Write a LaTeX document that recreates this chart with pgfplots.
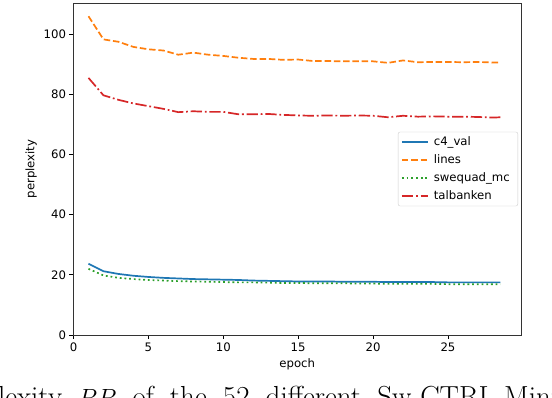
\documentclass[border=0pt]{standalone}
\usepackage{pgfplots}
\pgfplotsset{compat=1.18}
\usepackage{fontspec}
\newfontfamily\plotfont{DejaVu Sans}

\definecolor{tabblue}{HTML}{1F77B4}
\definecolor{taborange}{HTML}{FF7F0E}
\definecolor{tabgreen}{HTML}{2CA02C}
\definecolor{tabred}{HTML}{D62728}

\begin{document}
\begin{tikzpicture}
\useasboundingbox (0pt,0pt) rectangle (552pt,398pt);
\clip (0pt,0pt) rectangle (552pt,398pt);
\begin{axis}[
    at={(73.5pt,63pt)}, anchor=south west,
    scale only axis,
    width=447.5pt, height=332pt,
    xmin=0, xmax=29.875,
    ymin=0, ymax=110.4,
    xtick={0,5,...,25},
    ytick={0,20,...,100},
    tick align=outside,
    tick pos=left,
    major tick length=4pt,
    every tick/.style={black, line width=0.9pt},
    axis line style={line width=0.9pt, black!80},
    font=\plotfont\fontsize{11.7}{14}\selectfont,
    /pgf/number format/assume math mode=true,
    xlabel={epoch},
    ylabel={perplexity},
    legend cell align=left,
    legend style={at={(0.9933,0.5)}, anchor=east, draw=black!20,
        rounded corners=2pt, inner xsep=3pt, inner ysep=3pt,
        row sep=3.5pt, font=\plotfont\fontsize{11.7}{14}\selectfont,
        nodes={inner xsep=5pt}},
    legend image code/.code={\draw[#1, line width=1.7pt] (0pt,0pt) -- (26pt,0pt);},
]

% c4_val
\addplot[tabblue, line width=1.7pt] coordinates {
    (1,23.7) (2,21.2) (3,20.3) (4,19.7) (5,19.3) (6,19.0) (7,18.8) (8,18.6)
    (9,18.5) (10,18.4) (11,18.3) (12,18.1) (13,18.0) (14,17.9) (15,17.8)
    (16,17.8) (17,17.8) (18,17.7) (19,17.7) (20,17.7) (21,17.6) (22,17.6)
    (23,17.6) (24,17.6) (25,17.5) (26,17.5) (27,17.5) (28,17.5) (28.5,17.5)
};

% lines
\addplot[taborange, line width=1.7pt, dash pattern=on 6.5pt off 2.8pt] coordinates {
    (1,106.0) (2,98.3) (3,97.5) (4,95.8) (5,95.0) (6,94.6) (7,93.2) (8,93.9)
    (9,93.2) (10,92.8) (11,92.2) (12,91.8) (13,91.8) (14,91.5) (15,91.6)
    (16,91.1) (17,91.1) (18,91.0) (19,91.0) (20,91.0) (21,90.5) (22,91.3)
    (23,90.7) (24,90.8) (25,90.8) (26,90.7) (27,90.8) (28,90.6) (28.5,90.6)
};

% swequad_mc
\addplot[tabgreen, line width=1.7pt, dash pattern=on 1.8pt off 2.9pt] coordinates {
    (1,22.0) (2,19.8) (3,19.0) (4,18.6) (5,18.3) (6,18.1) (7,17.9) (8,17.8)
    (9,17.7) (10,17.6) (11,17.5) (12,17.5) (13,17.4) (14,17.3) (15,17.3)
    (16,17.2) (17,17.2) (18,17.2) (19,17.1) (20,17.1) (21,17.0) (22,17.0)
    (23,17.0) (24,17.0) (25,16.9) (26,16.9) (27,16.9) (28,16.9) (28.5,16.9)
};

% talbanken
\addplot[tabred, line width=1.7pt, dash pattern=on 11.3pt off 2.8pt on 1.8pt off 2.8pt] coordinates {
    (1,85.5) (2,79.7) (3,78.2) (4,77.0) (5,76.1) (6,75.2) (7,74.1) (8,74.4)
    (9,74.2) (10,74.2) (11,73.4) (12,73.4) (13,73.5) (14,73.2) (15,73.0)
    (16,72.9) (17,73.0) (18,72.9) (19,73.0) (20,72.9) (21,72.4) (22,72.9)
    (23,72.6) (24,72.7) (25,72.6) (26,72.6) (27,72.5) (28,72.3) (28.5,72.4)
};

\legend{c4\_val, lines, swequad\_mc, talbanken}
\end{axis}
% caption of the page below the figure, cut off by the crop
\node[anchor=base west, inner sep=0pt, font=\fontsize{29}{34}\selectfont]
    at (-54.5pt,-8.8pt) {\makebox[612.5pt][s]{perplexity $PP$ of the 52 different Sw-CTRL-Mini}};
\end{tikzpicture}
\end{document}
